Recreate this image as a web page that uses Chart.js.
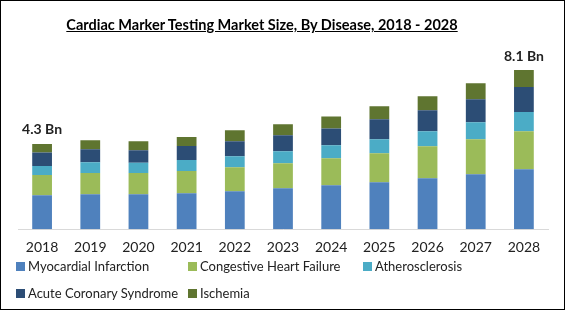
<!DOCTYPE html>
<html>
<head>
<meta charset="utf-8">
<script src="https://cdn.jsdelivr.net/npm/chart.js@4/dist/chart.umd.min.js"></script>
<style>
    html, body { margin: 0; padding: 0; background: #fff; }
    #wrap {
        position: relative;
        width: 565px;
        height: 310px;
        box-sizing: border-box;
        border: 1px solid #000;
        font-family: Lato, "Open Sans", sans-serif;
        overflow: hidden;
    }
    #title {
        position: absolute;
        left: 0;
        top: 15px;
        width: 522px;
        text-align: center;
        font-size: 14.5px;
        font-weight: bold;
        text-decoration: underline;
        color: #000;
    }
    #chart { position: absolute; left: 0; top: 0; }
    #legend {
        position: absolute;
        left: 15px;
        top: 256px;
        width: 540px;
        font-size: 13px;
        color: #222;
    }
    .item {
        position: absolute;
        white-space: nowrap;
        line-height: 18px;
    }
    .item span {
        display: inline-block;
        width: 9px;
        height: 9px;
        margin-right: 3px;
    }
</style>
</head>
<body>
<div id="wrap">
    <canvas id="chart" width="563" height="308"></canvas>
    <div id="title">Cardiac Marker Testing Market Size, By Disease, 2018 - 2028</div>
    <div id="legend"></div>
</div>
<script>
// ========================================
// DATA (USD Bn)
// ========================================
const years = ['2018', '2019', '2020', '2021', '2022', '2023', '2024', '2025', '2026', '2027', '2028'];

const myocardial = [1.73, 1.78, 1.78, 1.83, 1.93, 2.08, 2.23, 2.39, 2.59, 2.79, 3.05];
const heartFailure = [1.02, 1.08, 1.08, 1.12, 1.22, 1.27, 1.37, 1.47, 1.62, 1.78, 1.93];
const atherosclerosis = [0.46, 0.54, 0.51, 0.57, 0.56, 0.61, 0.66, 0.71, 0.76, 0.86, 0.97];
const acuteCoronary = [0.68, 0.66, 0.64, 0.70, 0.76, 0.81, 0.86, 1.02, 1.07, 1.17, 1.27];
const ischemia = [0.44, 0.46, 0.46, 0.46, 0.56, 0.56, 0.61, 0.66, 0.71, 0.81, 0.86];

const seriesNames = ['Myocardial Infarction', 'Congestive Heart Failure', 'Atherosclerosis', 'Acute Coronary Syndrome', 'Ischemia'];
const seriesColors = ['#4F81BD', '#9BBB59', '#4BACC6', '#2C4D75', '#5F7530'];
const seriesData = [myocardial, heartFailure, atherosclerosis, acuteCoronary, ischemia];

// totals shown over the first and last bars
const totalLabels = { 0: '4.3 Bn', 10: '8.1 Bn' };

// ========================================
// TOTAL LABELS PLUGIN
// ========================================
const totalsPlugin = {
    id: 'totals',
    afterDatasetsDraw(chart) {
        const ctx = chart.ctx;
        const top = chart.getDatasetMeta(seriesData.length - 1);
        ctx.save();
        ctx.font = 'bold 14px Lato, "Open Sans", sans-serif';
        ctx.fillStyle = '#222';
        ctx.textAlign = 'center';
        ctx.textBaseline = 'middle';
        Object.keys(totalLabels).forEach(i => {
            const bar = top.data[i];
            ctx.fillText(totalLabels[i], bar.x, bar.y - 14);
        });
        ctx.restore();
    }
};

// ========================================
// CHART
// ========================================
const ctx = document.getElementById('chart').getContext('2d');
new Chart(ctx, {
    type: 'bar',
    data: {
        labels: years,
        datasets: seriesData.map((d, i) => ({
            label: seriesNames[i],
            data: d,
            backgroundColor: seriesColors[i],
            borderWidth: 0,
            barPercentage: 0.41,
            categoryPercentage: 1
        }))
    },
    options: {
        responsive: false,
        animation: false,
        layout: { padding: { left: 17, right: 16, top: 51, bottom: 43 } },
        plugins: {
            legend: { display: false },
            tooltip: { enabled: false }
        },
        scales: {
            x: {
                stacked: true,
                grid: { display: false, drawTicks: false },
                border: { display: true, color: '#D9D9D9', width: 1 },
                ticks: {
                    color: '#222',
                    padding: 10,
                    font: { family: 'Lato, "Open Sans", sans-serif', size: 14 }
                }
            },
            y: {
                stacked: true,
                display: false,
                min: 0,
                max: 9
            }
        }
    },
    plugins: [totalsPlugin]
});

// ========================================
// LEGEND (html, column aligned)
// ========================================
const legendPos = [[0, 0], [172, 0], [347, 0], [0, 27], [172, 27]];
const legend = document.getElementById('legend');
seriesNames.forEach((name, i) => {
    const div = document.createElement('div');
    div.className = 'item';
    div.style.left = legendPos[i][0] + 'px';
    div.style.top = legendPos[i][1] + 'px';
    div.innerHTML = '<span style="background:' + seriesColors[i] + '"></span>' + name;
    legend.appendChild(div);
});
</script>
</body>
</html>
